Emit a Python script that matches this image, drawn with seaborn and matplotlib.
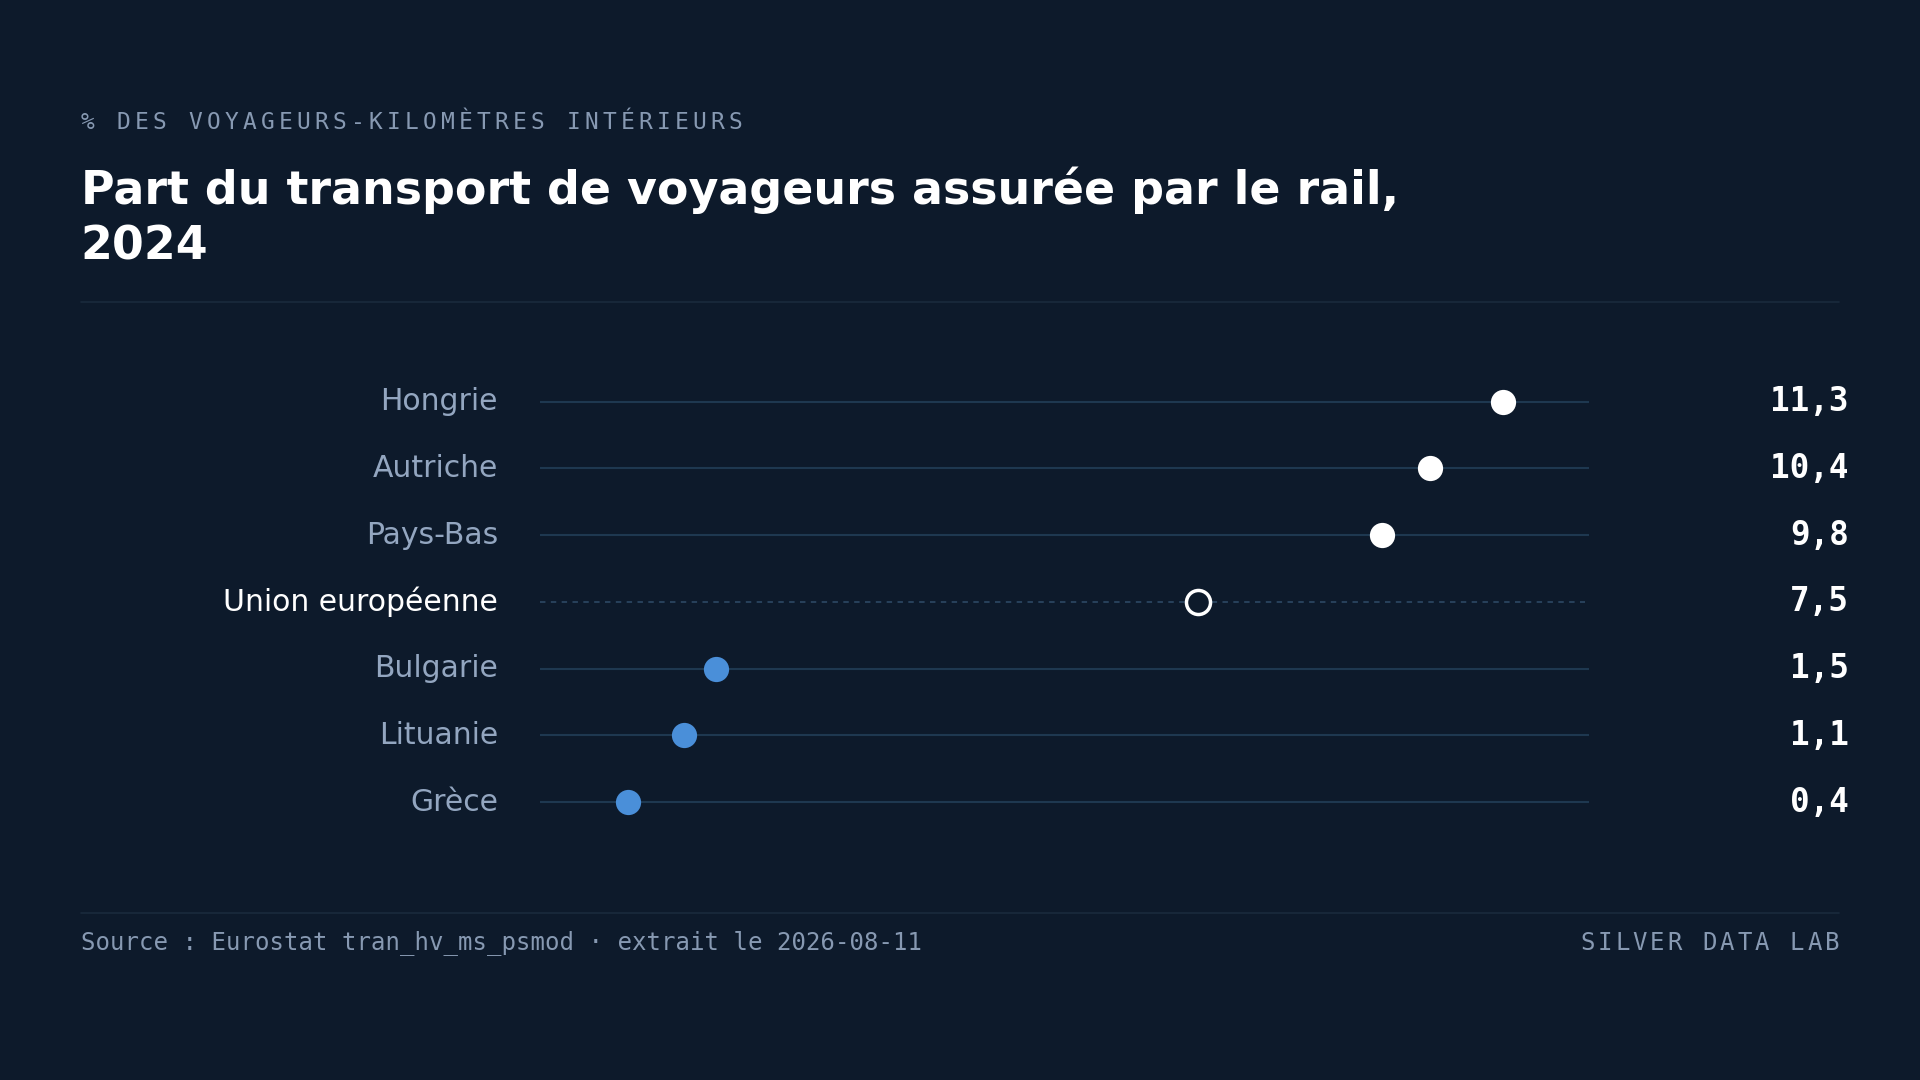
import matplotlib
matplotlib.use("Agg")
import matplotlib.pyplot as plt
import matplotlib.transforms as mtrans
import seaborn as sns
import pandas as pd

countries = ["Hongrie", "Autriche", "Pays-Bas", "Union européenne", "Bulgarie", "Lituanie", "Grèce"]
values = [11.3, 10.4, 9.8, 7.5, 1.5, 1.1, 0.4]
labels = ["11,3", "10,4", "9,8", "7,5", "1,5", "1,1", "0,4"]
groups = ["haut", "haut", "haut", "ue", "bas", "bas", "bas"]

BG = "#0d1a2b"
LINE = "#1e3850"
BLUE = "#4a8fd9"
MUTED = "#93a6c0"
SUB = "#8799b2"

sns.set_theme(style="white")
plt.rcParams['font.family'] = ['DejaVu Sans']
W, H = 1920, 1080
fig = plt.figure(figsize=(19.2, 10.8), dpi=100, facecolor=BG)
S = W / 1568

def fx(x): return x * S / W
def fy(y): return 1 - y * S / H

def spaced(x, y, text, size, color, spacing, ha="left", weight="normal"):
    adv = 0.602 * size * 100 / 72 + spacing
    total = adv * len(text) - spacing
    start = x * S if ha == "left" else x * S - total
    for i, ch in enumerate(text):
        fig.text((start + i * adv) / W, fy(y), ch, fontsize=size, color=color,
                 family="DejaVu Sans Mono", va="center", ha="left", weight=weight)

spaced(66, 100, "% DES VOYAGEURS-KILOMÈTRES INTÉRIEURS", 16.5, SUB, 4.2)
fig.text(fx(66), fy(155), "Part du transport de voyageurs assurée par le rail,", fontsize=33,
         weight="bold", color="white", va="center")
fig.text(fx(66), fy(202), "2024", fontsize=33, weight="bold", color="white", va="center")
fig.add_artist(plt.Line2D([fx(66), fx(1502)], [fy(247), fy(247)], color="#1a2a3d", lw=1.2))
fig.add_artist(plt.Line2D([fx(66), fx(1502)], [fy(746), fy(746)], color="#1a2a3d", lw=1.2))
fig.text(fx(66), fy(770), "Source : Eurostat tran_hv_ms_psmod · extrait le 2026-08-11", fontsize=17.3,
         family="DejaVu Sans Mono", color=SUB, va="center")
spaced(1502, 770, "SILVER DATA LAB", 17.3, SUB, 3.0, ha="right")

ax_l, ax_r = 441 / 1568, 1298 / 1568
ax_t, ax_b = fy(328 - 27.3), fy(655 + 27.3)
ax = fig.add_axes([ax_l, ax_b, ax_r - ax_l, ax_t - ax_b])
ax.set_facecolor(BG)
for s in ax.spines.values():
    s.set_visible(False)
x0, x1 = -0.69, 12.38
ax.set_xlim(x0, x1)
ax.set_ylim(len(countries) - 0.5, -0.5)
ax.set_xticks([]); ax.set_yticks([])

df = pd.DataFrame({"pays": countries, "val": values, "grp": groups, "y": range(len(countries))})
for i, g in enumerate(groups):
    if g == "ue":
        ax.hlines(i, x0, x1 - 0.06, color="#2a4560", lw=1.3, ls=(0, (3, 3)))
    else:
        ax.hlines(i, x0, x1, color=LINE, lw=1.5)
sns.scatterplot(data=df[df.grp == "haut"], x="val", y="y", ax=ax, s=330, color="white",
                edgecolor="white", linewidth=0, zorder=3, legend=False)
sns.scatterplot(data=df[df.grp == "bas"], x="val", y="y", ax=ax, s=330, color=BLUE,
                edgecolor=BLUE, linewidth=0, zorder=3, legend=False)
sns.scatterplot(data=df[df.grp == "ue"], x="val", y="y", ax=ax, s=300, color=BG,
                edgecolor="white", linewidth=2.5, zorder=3, legend=False)
ax.set_xlabel(""); ax.set_ylabel("")

tr = mtrans.blended_transform_factory(fig.transFigure, ax.transData)
for i, (c, lab, g) in enumerate(zip(countries, labels, groups)):
    ax.text(-0.04, i, c, transform=ax.get_yaxis_transform(), ha="right", va="center",
            fontsize=21.5, color="white" if g == "ue" else MUTED)
    ax.text(fx(1510), i, lab, transform=tr, ha="right", va="center", fontsize=23.5,
            weight="bold", family="DejaVu Sans Mono", color="white")

fig.savefig("out.png", dpi=100, facecolor=BG)
